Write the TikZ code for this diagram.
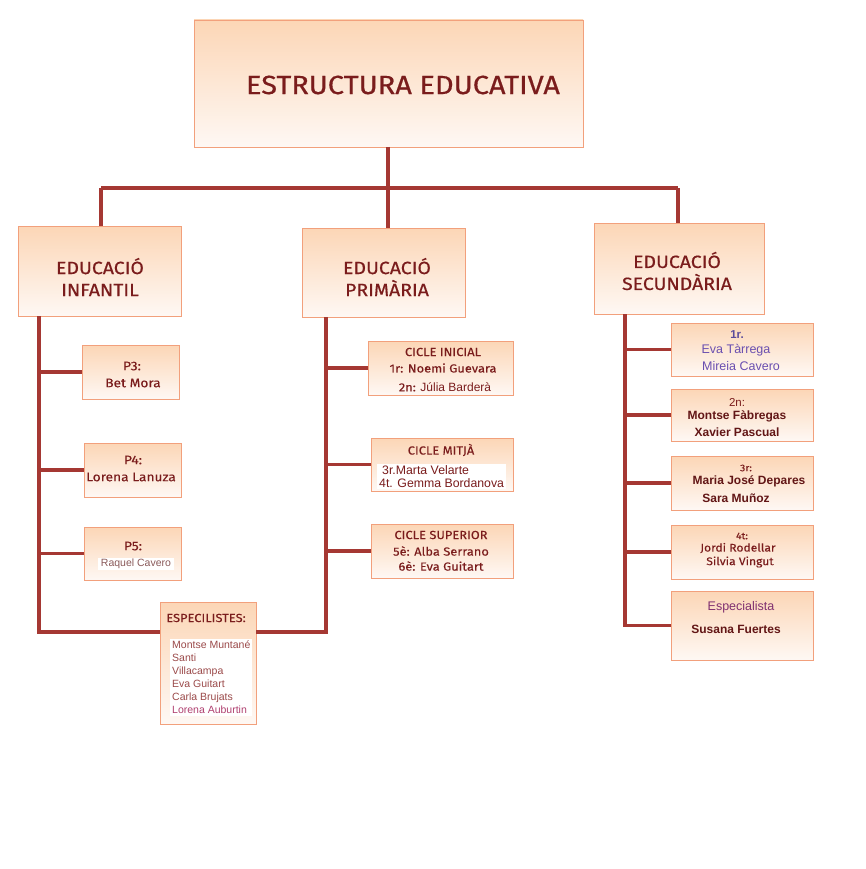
\documentclass[tikz,border=0pt]{standalone}
\usepackage{fontspec}
\setmainfont{Fira Sans}
\newfontfamily\fira{Fira Sans}[FakeStretch=1.10,FakeBold=0.5]
\newfontfamily\firas{Fira Sans}[FakeStretch=1.10,FakeBold=0.15]
\newfontfamily\arial{Liberation Sans}
\definecolor{dred}{HTML}{7A1C1C}
\definecolor{conncol}{HTML}{A53833}
\definecolor{bordcol}{HTML}{F2A07C}
\definecolor{topfill}{HTML}{FCD6B6}
\definecolor{botfill}{HTML}{FEF8F4}
\definecolor{purp}{HTML}{6A4FB0}
\definecolor{purpd}{HTML}{5B4B9B}
\definecolor{listcol}{HTML}{9B4A4A}
\definecolor{pinkc}{HTML}{B04070}
\definecolor{espc}{HTML}{803070}
\definecolor{greyb}{HTML}{8A5A5A}
\begin{document}
\begin{tikzpicture}[x=1pt,y=-1pt,
  box/.style={draw=bordcol, line width=0.9pt, top color=topfill, bottom color=botfill,
    inner sep=0pt, outer sep=0pt, anchor=north west},
  conn/.style={draw=conncol, line width=3.2pt},
  mainconn/.style={draw=conncol, line width=4pt},
  tt/.style={inner sep=0pt, text=dred, font=\fira},
  ts/.style={inner sep=0pt, text=dred, font=\firas},
  ta/.style={inner sep=0pt, font=\arial}]
\useasboundingbox (0,0) rectangle (866,869);
\fill[white] (0,0) rectangle (866,869);

% boxes
\node[box, minimum width=389pt, minimum height=127pt] (top) at (194,20) {};
\node[box, minimum width=163pt, minimum height=90pt] (inf) at (18,226) {};
\node[box, minimum width=163pt, minimum height=89pt] (pri) at (302,228) {};
\node[box, minimum width=170pt, minimum height=91pt] (sec) at (594,223) {};

\node[box, minimum width=97pt, minimum height=54pt] (p3) at (82,345) {};
\node[box, minimum width=97pt, minimum height=54pt] (p4) at (84,443) {};
\node[box, minimum width=97pt, minimum height=53pt] (p5) at (84,527) {};
\node[box, minimum width=96pt, minimum height=122pt] (esp) at (160,602) {};

\node[box, minimum width=145pt, minimum height=54pt] (ci) at (368,341) {};
\node[box, minimum width=142pt, minimum height=53pt] (cm) at (371,438) {};
\node[box, minimum width=142pt, minimum height=54pt] (cs) at (371,524) {};

\node[box, minimum width=142pt, minimum height=53pt] (s1) at (671,323) {};
\node[box, minimum width=142pt, minimum height=52pt] (s2) at (671,389) {};
\node[box, minimum width=142pt, minimum height=54pt] (s3) at (671,456) {};
\node[box, minimum width=142pt, minimum height=54pt] (s4) at (671,525) {};
\node[box, minimum width=142pt, minimum height=69pt] (s5) at (671,591) {};

% connectors
\coordinate (hb) at (388,188);
\coordinate (hl) at (101,188);
\coordinate (hr) at (678,188);
\draw[conn] (top.south -| hb) -- (hb);
\draw[mainconn] (hl) -- (hr);
\draw[conn] (hl) -- (hl |- inf.north);
\draw[conn] (hr) -- (hr |- sec.north);
\draw[conn] (hb) -- (hb |- pri.north);

\coordinate (iv) at (39,316);
\coordinate (ib) at (39,632);
\draw[conn] (iv) -- (ib) -- (ib -| esp.west);
\draw[conn] (iv |- p3.west) -- (p3.west);
\draw[conn] (iv |- p4.west) -- (p4.west);
\draw[conn] (iv |- p5.west) -- (p5.west);

\coordinate (pv) at (326,317);
\coordinate (pb) at (326,632);
\draw[conn] (pv) -- (pb) -- (pb -| esp.east);
\draw[conn] (pv |- ci.west) -- (ci.west);
\draw[conn] (pv |- cm.west) -- (cm.west);
\draw[conn] (pv |- cs.west) -- (cs.west);

\coordinate (sv) at (625,314);
\draw[conn] (sv) -- (sv |- s5.west) -- (s5.west);
\draw[conn] (sv |- s1.west) -- (s1.west);
\draw[conn] (sv |- s2.west) -- (s2.west);
\draw[conn] (sv |- s3.west) -- (s3.west);
\draw[conn] (sv |- s4.west) -- (s4.west);

% texts
\node[tt, font=\fira\fontsize{26.3}{30}\selectfont] (ttop) at (403,85) {ESTRUCTURA EDUCATIVA};
\node[tt, font=\fira\fontsize{17.7}{21}\selectfont, align=center] (tinf) at (100,277) {EDUCACIÓ\\[1pt]INFANTIL};
\node[tt, font=\fira\fontsize{17.7}{21}\selectfont, align=center] (tpri) at (387,277) {EDUCACIÓ\\[1pt]PRIMÀRIA};
\node[tt, font=\fira\fontsize{17.7}{21}\selectfont, align=center] (tsec) at (677,271) {EDUCACIÓ\\[1pt]SECUNDÀRIA};

\node[ts, font=\firas\fontsize{12.5}{15}\selectfont] (tp3a) at (132,366) {P3:};
\node[ts, font=\firas\fontsize{12.5}{15}\selectfont] (tp3b) at (133,383) {Bet Mora};
\node[ts, font=\firas\fontsize{12.5}{15}\selectfont] (tp4a) at (133,460) {P4:};
\node[ts, font=\firas\fontsize{12.5}{15}\selectfont] (tp4b) at (131,477) {Lorena Lanuza};
\node[ts, font=\firas\fontsize{12.5}{15}\selectfont] (tp5a) at (133,546) {P5:};
\node[ta, text=greyb, fill=white, inner xsep=3pt, inner ysep=1pt, font=\arial\fontsize{10.5}{12}\selectfont] (tp5b) at (136,564) {Raquel Cavero};

\node[ts, font=\firas\fontsize{11.7}{14}\selectfont] (tesp) at (206,618) {ESPECILISTES:};
\node[ta, text=listcol, fill=white, inner xsep=2pt, inner ysep=2pt, anchor=north west, align=left,
  font=\arial\fontsize{10.5}{13}\selectfont] (tespl) at (170,639)
  {Montse Muntané\\Santi\\Villacampa\\Eva Guitart\\Carla Brujats\\\textcolor{pinkc}{Lorena Auburtin}};

\node[ts, font=\firas\fontsize{11.7}{14}\selectfont] (tci) at (443,352) {CICLE INICIAL};
\node[ts, font=\firas\fontsize{11.7}{14}\selectfont] (tci1) at (443,368) {1r: Noemi Guevara};
\node[ts, font=\firas\fontsize{11.7}{14}\selectfont] (tci2) at (445,387) {2n: {\arial\fontsize{12}{14}\selectfont Júlia Barderà}};

\node[ts, font=\firas\fontsize{11.7}{14}\selectfont] (tcm) at (441,450) {CICLE MITJÀ};
\node[ta, text=dred, fill=white, inner xsep=2pt, inner ysep=1pt, anchor=north west, align=left,
  font=\arial\fontsize{12.3}{13.5}\selectfont] (tcml) at (377,464) {\hspace*{3pt}3r.Marta Velarte\\4t. Gemma Bordanova};

\node[ts, font=\firas\fontsize{11.7}{14}\selectfont] (tcs) at (441,535) {CICLE SUPERIOR};
\node[ts, font=\firas\fontsize{11.7}{14}\selectfont] (tcs1) at (441,551) {5è: Alba Serrano};
\node[ts, font=\firas\fontsize{11.7}{14}\selectfont] (tcs2) at (441,566) {6è: Eva Guitart};

\node[ta, text=purpd, font=\arial\bfseries\fontsize{11.5}{13}\selectfont] (ts1a) at (737,335) {1r.};
\node[ta, text=purp, font=\arial\fontsize{12.5}{14}\selectfont] (ts1b) at (736,350) {Eva Tàrrega};
\node[ta, text=purp, font=\arial\fontsize{12.5}{14}\selectfont] (ts1c) at (741,366) {Mireia Cavero};

\node[ta, text=dred, font=\arial\fontsize{11.5}{13}\selectfont] (ts2a) at (737,402) {2n:};
\node[ta, text=dred!80!black, font=\arial\bfseries\fontsize{12}{14}\selectfont] (ts2b) at (737,416) {Montse Fàbregas};
\node[ta, text=dred!80!black, font=\arial\bfseries\fontsize{12}{14}\selectfont] (ts2c) at (737,432) {Xavier Pascual};

\node[ts, font=\firas\fontsize{9.5}{11}\selectfont] (ts3a) at (746,468) {3r:};
\node[ta, text=dred!80!black, font=\arial\bfseries\fontsize{12}{14}\selectfont] (ts3b) at (749,481) {Maria José Depares};
\node[ta, text=dred!80!black, font=\arial\bfseries\fontsize{12}{14}\selectfont] (ts3c) at (736,498) {Sara Muñoz};

\node[tt, font=\fira\fontsize{9.5}{11}\selectfont] (ts4a) at (742,536) {4t:};
\node[ts, font=\firas\fontsize{11}{13}\selectfont] (ts4b) at (738,548) {Jordi Rodellar};
\node[ts, font=\firas\fontsize{11}{13}\selectfont] (ts4c) at (740,562) {Silvia Vingut};

\node[ta, text=espc, font=\arial\fontsize{12.5}{14}\selectfont] (ts5a) at (741,607) {Especialista};
\node[ta, text=dred!80!black, font=\arial\bfseries\fontsize{12}{14}\selectfont] (ts5b) at (736,629) {Susana Fuertes};
\end{tikzpicture}
\end{document}
